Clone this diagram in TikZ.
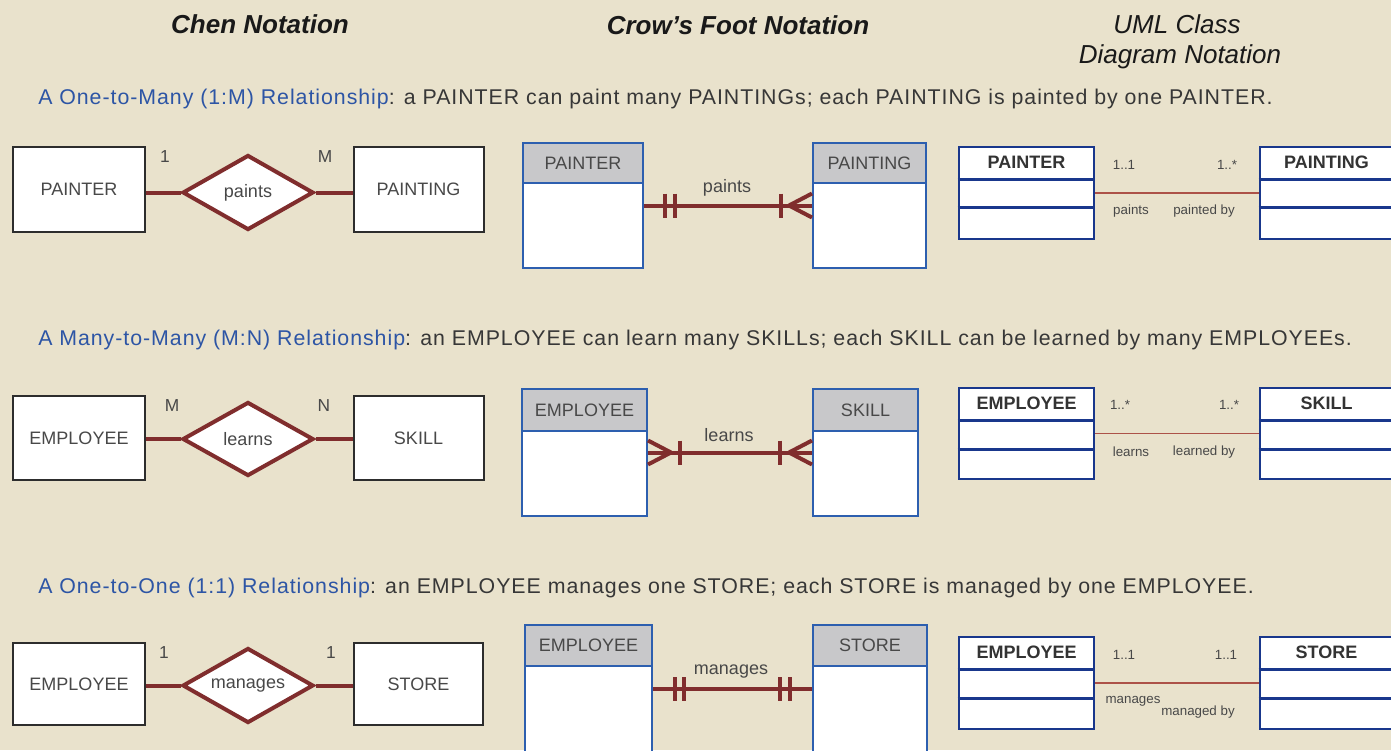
\documentclass[tikz,border=0pt]{standalone}
\usepackage{fontspec}
\setmainfont{Liberation Sans}
\newfontfamily\widesans[LetterSpace=4.5]{Liberation Sans}
\usetikzlibrary{shapes.geometric,calc}

\definecolor{paper}{RGB}{233,226,204}
\definecolor{inkgray}{RGB}{72,72,72}
\definecolor{textgray}{RGB}{55,55,55}
\definecolor{textblue}{RGB}{45,85,165}
\definecolor{chenedge}{RGB}{45,45,45}
\definecolor{relred}{RGB}{128,45,45}
\definecolor{crowblue}{RGB}{45,95,175}
\definecolor{headgray}{RGB}{200,200,202}
\definecolor{umlblue}{RGB}{25,55,140}
\definecolor{umlred}{RGB}{172,82,72}

% UML class: name, centre, width, height, first divider, second divider, title
\newcommand\UmlClass[7]{%
  \node[umlbox, sized={#3}{#4}] (#1) at (#2) {};
  \draw[umlsep] ($(#1.north west)+(0,#5)$) -- ($(#1.north east)+(0,#5)$);
  \draw[umlsep] ($(#1.north west)+(0,#6)$) -- ($(#1.north east)+(0,#6)$);
  \node[umltitle] at ($(#1.north)+(0,#5/2)$) {#7};
}
% Crow's foot table: name, centre, width, height, header height, title
\newcommand\CrowTable[6]{%
  \node[crowbox, sized={#3}{#4}] (#1) at (#2) {};
  \node[crowhead, sized={#3}{#5}] (#1h) at (#1.north) {#6};
}

\begin{document}
\begin{tikzpicture}[x=0.75pt,y=-0.75pt,
  every node/.style={inner sep=0pt, text=inkgray},
  sized/.style 2 args={minimum width=#1*0.75pt, minimum height=#2*0.75pt},
  chenent/.style={draw=chenedge, line width=1.5pt, fill=white, font=\fontsize{13.5}{16}\selectfont},
  chenrel/.style={diamond, draw=relred, line width=3pt, fill=white, aspect=1.75, font=\fontsize{13.5}{16}\selectfont},
  chenlink/.style={draw=relred, line width=3pt},
  card/.style={font=\fontsize{13}{15}\selectfont},
  crowbox/.style={draw=crowblue, line width=1.5pt, fill=white},
  crowhead/.style={draw=crowblue, line width=1.5pt, fill=headgray, anchor=north, font=\fontsize{13.5}{16}\selectfont},
  crowlink/.style={draw=relred, line width=3pt, line join=round},
  rellabel/.style={font=\fontsize{13.5}{16}\selectfont},
  umlbox/.style={draw=umlblue, line width=2pt, fill=white},
  umlsep/.style={draw=umlblue, line width=2pt},
  umltitle/.style={font=\bfseries\fontsize{13.5}{16}\selectfont, text=black!80},
  umllink/.style={draw=umlred, line width=1.3pt},
  umlnote/.style={font=\fontsize{10}{12}\selectfont},
  heading/.style={font=\bfseries\itshape\fontsize{19.5}{23}\selectfont, text=black!90},
  subheading/.style={font=\itshape\fontsize{19.5}{23}\selectfont, text=black!90},
  sentence/.style={anchor=west, font=\widesans\fontsize{16}{19}\selectfont, text=textgray}
]
\useasboundingbox (0,0) rectangle (1391,750);
\fill[paper] (0,0) rectangle (1391,750);
\clip (0,0) rectangle (1391,750);

% ---- column headings
\node[heading] (hchen) at (260,24) {Chen Notation};
\node[heading] (hcrow) at (738,25) {Crow’s Foot Notation};
\node[subheading] (huml1) at (1177,24) {UML Class};
\node[subheading] (huml2) at (1180,57) {Diagram Notation};

% ---- descriptions
\node[sentence] (s1) at (38,99) {{\color{textblue}A One-to-Many (1:M) Relationship}: a PAINTER can paint many PAINTINGs; each PAINTING is painted by one PAINTER.};
\node[sentence] (s2) at (38,340) {{\color{textblue}A Many-to-Many (M:N) Relationship}: an EMPLOYEE can learn many SKILLs; each SKILL can be learned by many EMPLOYEEs.};
\node[sentence] (s3) at (38,588) {{\color{textblue}A One-to-One (1:1) Relationship}: an EMPLOYEE manages one STORE; each STORE is managed by one EMPLOYEE.};

% ================= 1:M =================
% Chen
\node[chenent, sized={132}{85}] (c1a) at (79,189.5) {PAINTER};
\node[chenrel, sized={131}{75}] (c1r) at (248,192.5) {paints};
\node[chenent, sized={130}{85}] (c1b) at (418.5,189.5) {PAINTING};
\draw[chenlink] (c1a.east |- c1r.west) -- (c1r.west);
\draw[chenlink] (c1r.east) -- (c1r.east -| c1b.west);
\node[card] (c1m1) at (165,157) {1};
\node[card] (c1m2) at (325,157) {M};
% Crow's foot
\CrowTable{f1a}{583,205.5}{120}{125}{40}{PAINTER}
\CrowTable{f1b}{869.5,205.5}{113}{125}{40}{PAINTING}
\draw[crowlink] (f1a.east) -- (f1b.west);
\draw[crowlink] ($(f1a.east)+(21,-12)$) -- ($(f1a.east)+(21,12)$);
\draw[crowlink] ($(f1a.east)+(31,-12)$) -- ($(f1a.east)+(31,12)$);
\draw[crowlink] ($(f1b.west)+(-31,-12)$) -- ($(f1b.west)+(-31,12)$);
\draw[crowlink] ($(f1b.west)+(0,-12)$) -- ($(f1b.west)+(-23,0)$) -- ($(f1b.west)+(0,12)$);
\node[rellabel] (f1l) at (727,188) {paints};
% UML
\UmlClass{u1a}{1026.5,193}{135}{92}{34}{62}{PAINTER}
\UmlClass{u1b}{1326.5,193}{133}{92}{34}{62}{PAINTING}
\draw[umllink] (u1a.east) -- (u1b.west);
\node[umlnote] (u1m1) at (1124,165) {1..1};
\node[umlnote] (u1m2) at (1227,165) {1..*};
\node[umlnote] (u1r1) at (1131,211) {paints};
\node[umlnote] (u1r2) at (1204,211) {painted by};

% ================= M:N =================
% Chen
\node[chenent, sized={132}{84}] (c2a) at (79,438) {EMPLOYEE};
\node[chenrel, sized={131}{74}] (c2r) at (248,439) {learns};
\node[chenent, sized={130}{84}] (c2b) at (418.5,438) {SKILL};
\draw[chenlink] (c2a.east |- c2r.west) -- (c2r.west);
\draw[chenlink] (c2r.east) -- (c2r.east -| c2b.west);
\node[card] (c2m1) at (172,406) {M};
\node[card] (c2m2) at (324,406) {N};
% Crow's foot
\CrowTable{f2a}{584.5,452.5}{125}{127}{42}{EMPLOYEE}
\CrowTable{f2b}{865.5,452.5}{105}{127}{42}{SKILL}
\draw[crowlink] (f2a.east) -- (f2b.west);
\draw[crowlink] ($(f2a.east)+(0,-12)$) -- ($(f2a.east)+(23,0)$) -- ($(f2a.east)+(0,12)$);
\draw[crowlink] ($(f2a.east)+(32,-12)$) -- ($(f2a.east)+(32,12)$);
\draw[crowlink] ($(f2b.west)+(-32,-12)$) -- ($(f2b.west)+(-32,12)$);
\draw[crowlink] ($(f2b.west)+(0,-12)$) -- ($(f2b.west)+(-23,0)$) -- ($(f2b.west)+(0,12)$);
\node[rellabel] (f2l) at (729,435) {learns};
% UML
\UmlClass{u2a}{1026.5,433.5}{135}{91}{34}{63}{EMPLOYEE}
\UmlClass{u2b}{1326.5,433.5}{133}{91}{34}{63}{SKILL}
\draw[umllink] (u2a.east) -- (u2b.west);
\node[umlnote] (u2m1) at (1120,405) {1..*};
\node[umlnote] (u2m2) at (1229,405) {1..*};
\node[umlnote] (u2r1) at (1131,452) {learns};
\node[umlnote] (u2r2) at (1204,452) {learned by};

% ================= 1:1 =================
% Chen
\node[chenent, sized={132}{82}] (c3a) at (79,684) {EMPLOYEE};
\node[chenrel, sized={131}{75}] (c3r) at (248,685.5) {manages};
\node[chenent, sized={129}{82}] (c3b) at (418.5,684) {STORE};
\draw[chenlink] (c3a.east |- c3r.west) -- (c3r.west);
\draw[chenlink] (c3r.east) -- (c3r.east -| c3b.west);
\node[card] (c3m1) at (164,653) {1};
\node[card] (c3m2) at (331,653) {1};
% Crow's foot
\CrowTable{f3a}{588.5,689}{127}{128}{41}{EMPLOYEE}
\CrowTable{f3b}{870,689}{114}{128}{41}{STORE}
\draw[crowlink] (f3a.east) -- (f3b.west);
\draw[crowlink] ($(f3a.east)+(22,-12)$) -- ($(f3a.east)+(22,12)$);
\draw[crowlink] ($(f3a.east)+(31,-12)$) -- ($(f3a.east)+(31,12)$);
\draw[crowlink] ($(f3b.west)+(-32,-12)$) -- ($(f3b.west)+(-32,12)$);
\draw[crowlink] ($(f3b.west)+(-22,-12)$) -- ($(f3b.west)+(-22,12)$);
\node[rellabel] (f3l) at (731,672) {manages};
% UML
\UmlClass{u3a}{1026.5,683}{135}{92}{34}{63}{EMPLOYEE}
\UmlClass{u3b}{1326.5,683}{133}{92}{34}{63}{STORE}
\draw[umllink] (u3a.east) -- (u3b.west);
\node[umlnote] (u3m1) at (1124,655) {1..1};
\node[umlnote] (u3m2) at (1226,655) {1..1};
\node[umlnote] (u3r1) at (1133,701) {manages};
\node[umlnote] (u3r2) at (1198,712) {managed by};
\end{tikzpicture}
\end{document}
